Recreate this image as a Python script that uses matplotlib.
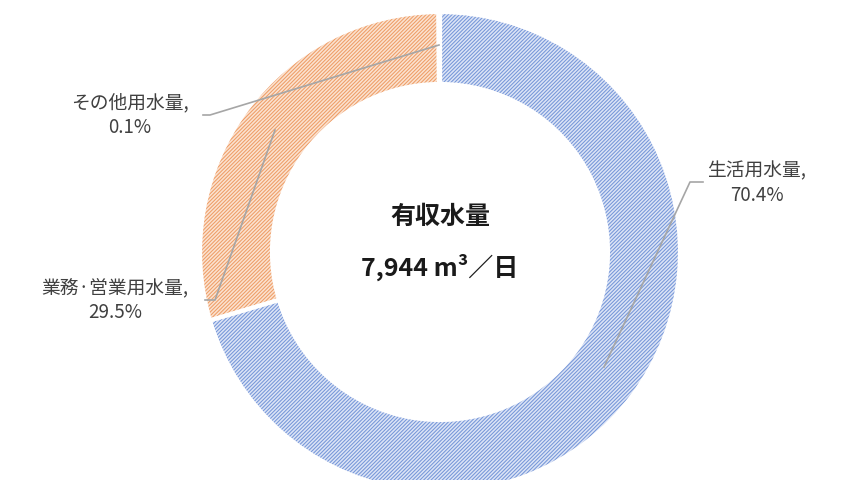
import matplotlib
matplotlib.use('Agg')
import matplotlib.pyplot as plt

plt.rcParams['font.family'] = ['Noto Sans CJK JP', 'DejaVu Sans']
plt.rcParams['hatch.linewidth'] = 0.75

# data
categories = ['生活用水量', '業務·営業用水量', 'その他用水量']
shares = [70.4, 29.5, 0.1]
pct_labels = ['70.4%', '29.5%', '0.1%']
face_colors = ['#DCE4F6', '#FBE2D0', '#FBE2D0']
hatch_colors = ['#7596D8', '#EE9D66', '#EE9D66']
total_text = '7,944 m³／日'

fig = plt.figure(figsize=(8.46, 4.8), dpi=100)
ax = fig.add_axes([0, 0, 1, 1])

center = (440, 228)
R = 240
W = 72

# hatched fill
wedges, _ = ax.pie(shares, radius=R, center=center, startangle=90, counterclock=False,
                   colors=face_colors, wedgeprops=dict(width=W, linewidth=0), frame=True)
for w, hc in zip(wedges, hatch_colors):
    w.set_hatch('/' * 9)
    w.set_edgecolor(hc)
    w.set_linewidth(0)

# white separators
ax.pie(shares, radius=R, center=center, startangle=90, counterclock=False,
       wedgeprops=dict(width=W, linewidth=3, edgecolor='white', fill=False), frame=True)
ax.set_xlim(0, 846)
ax.set_ylim(0, 480)
ax.set_aspect('equal')
ax.axis('off')

# labels and leader lines (pixel-like coords, y up)
label_pos = [(757, 297), (115, 180), (130, 365)]
leader = [
    [(604, 113), (690, 298), (703, 298)],
    [(275, 350), (215, 180), (205, 180)],
    [(439, 435), (210, 365), (203, 365)],
]
for cat, pct, (lx, ly), pts in zip(categories, pct_labels, label_pos, leader):
    xs = [p[0] for p in pts]
    ys = [p[1] for p in pts]
    ax.plot(xs, ys, color='#A6A6A6', linewidth=1.2)
    ax.text(lx, ly, cat + ',\n' + pct, ha='center', va='center', fontsize=13.5,
            color='#404040', linespacing=1.25)

ax.text(440, 263, '有収水量', ha='center', va='center', fontsize=18, fontweight='bold',
        color='#1A1A1A')
ax.text(440, 213, total_text, ha='center', va='center', fontsize=18, fontweight='bold',
        color='#1A1A1A')

fig.savefig('out.png', dpi=100, facecolor='white')
